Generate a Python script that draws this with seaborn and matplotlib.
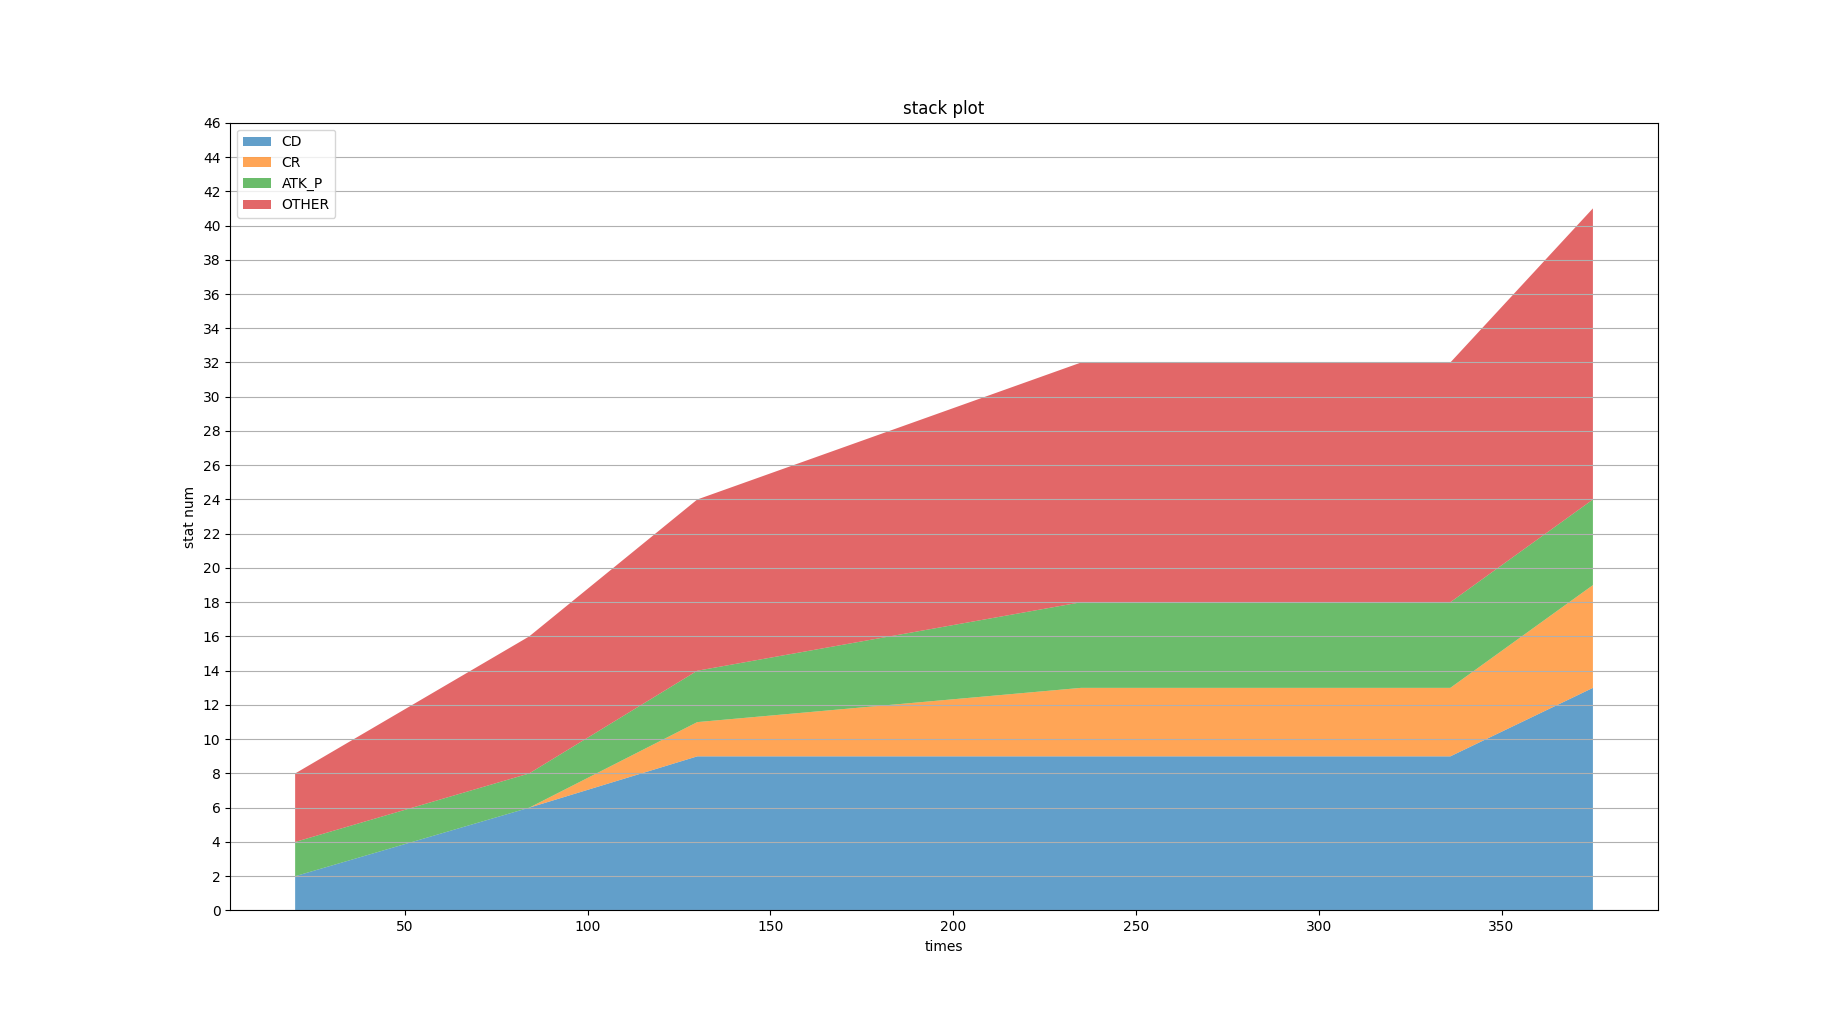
import matplotlib
matplotlib.use("Agg")
import matplotlib.pyplot as plt
import seaborn as sns
import numpy as np

times = [20, 84, 130, 235, 336, 375]
cd = [2, 6, 9, 9, 9, 13]
cr = [0, 0, 2, 4, 4, 6]
atk_p = [2, 2, 3, 5, 5, 5]
other = [4, 8, 10, 14, 14, 17]
labels = ["CD", "CR", "ATK_P", "OTHER"]

colors = sns.color_palette("tab10", 4)

fig, ax = plt.subplots(figsize=(18.42, 10.23), dpi=100)
ax.stackplot(times, cd, cr, atk_p, other, labels=labels, colors=colors, alpha=0.7)
ax.set_ylim(0, 46)
ax.set_yticks(np.arange(0, 47, 2))
ax.grid(axis="y")
ax.set_title("stack plot")
ax.set_xlabel("times")
ax.set_ylabel("stat num")
ax.legend(loc="upper left")
fig.savefig("out.png", dpi=100)
